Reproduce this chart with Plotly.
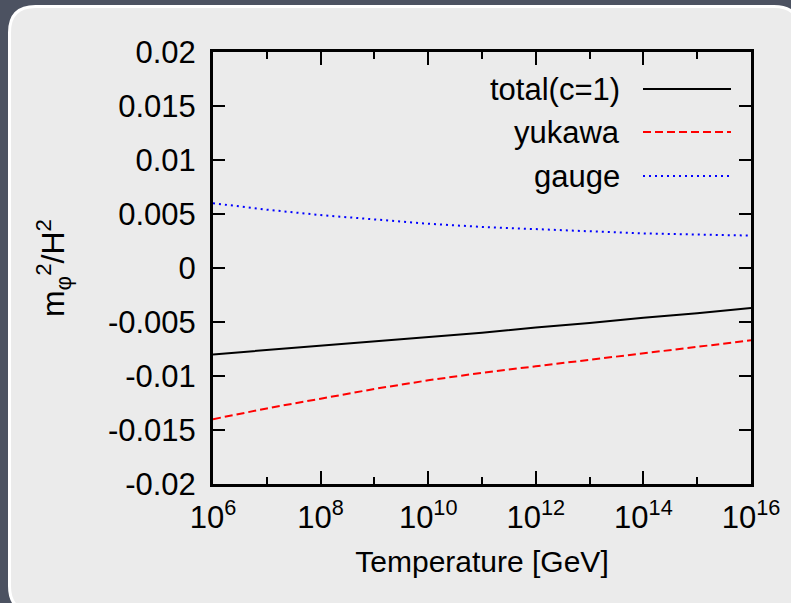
import plotly.graph_objects as go

# ---- data ----
temperature = [1e6, 1e7, 1e8, 1e9, 1e10, 1e11, 1e12, 1e13, 1e14, 1e15, 1e16]
total = [-0.0080, -0.0076, -0.0072, -0.0068, -0.0064, -0.0060, -0.0055, -0.0051, -0.0046, -0.0042, -0.0037]
yukawa = [-0.0140, -0.0130, -0.0121, -0.0112, -0.0104, -0.0097, -0.0091, -0.0085, -0.0079, -0.0073, -0.0067]
gauge = [0.0060, 0.0054, 0.0049, 0.0045, 0.0041, 0.0038, 0.0036, 0.0034, 0.0032, 0.0031, 0.0030]

series_names = ["total(c=1)", "yukawa", "gauge"]
series_values = [total, yukawa, gauge]
series_colors = ["#000000", "#ff0000", "#0000ff"]
series_dash = ["solid", "8px,4px", "2px,4px"]

x_major = [1e6, 1e8, 1e10, 1e12, 1e14, 1e16]
x_major_text = ["10<sup>6</sup>", "10<sup>8</sup>", "10<sup>10</sup>", "10<sup>12</sup>", "10<sup>14</sup>", "10<sup>16</sup>"]
x_minor = [1e7, 1e9, 1e11, 1e13, 1e15]
y_ticks = [-0.02, -0.015, -0.01, -0.005, 0, 0.005, 0.01, 0.015, 0.02]
y_tick_text = ["-0.02", "-0.015", "-0.01", "-0.005", "0", "0.005", "0.01", "0.015", "0.02"]

# ---- geometry (pixels) ----
W, H = 791, 603
ML, MR, MT, MB = 213, 40, 52, 119
PW, PH = W - ML - MR, H - MT - MB


def px(x):
    return (x - ML) / PW


def py(y):
    return (H - MB - y) / PH


FONT = "Liberation Sans, Arial, Helvetica, sans-serif"

fig = go.Figure()
for name, vals, col, dash in zip(series_names, series_values, series_colors, series_dash):
    fig.add_trace(go.Scatter(
        x=temperature, y=vals, mode="lines", name=name,
        line=dict(color=col, width=2, dash=dash), showlegend=False,
    ))

# rounded panel background
x0, x1, y0, y1, r = 9.5, 800, 6.5, 612, 26
path = (
    f"M {px(x0 + r)},{py(y0)} L {px(x1 - r)},{py(y0)} Q {px(x1)},{py(y0)} {px(x1)},{py(y0 + r)} "
    f"L {px(x1)},{py(y1 - r)} Q {px(x1)},{py(y1)} {px(x1 - r)},{py(y1)} "
    f"L {px(x0 + r)},{py(y1)} Q {px(x0)},{py(y1)} {px(x0)},{py(y1 - r)} "
    f"L {px(x0)},{py(y0 + r)} Q {px(x0)},{py(y0)} {px(x0 + r)},{py(y0)} Z"
)
shapes = [dict(type="path", xref="paper", yref="paper", path=path,
               fillcolor="#ebebeb", line=dict(color="#ffffff", width=3), layer="below")]

# manual gnuplot-style legend (text right-aligned, sample to the right)
annotations = []
legend_rows = [89, 132, 176]
for name, col, dash, ry in zip(series_names, series_colors, series_dash, legend_rows):
    annotations.append(dict(xref="paper", yref="paper", x=px(622), y=py(ry), text=name,
                            showarrow=False, xanchor="right", yanchor="middle",
                            font=dict(family=FONT, size=31, color="#000000")))
    shapes.append(dict(type="line", xref="paper", yref="paper",
                       x0=px(643), x1=px(731), y0=py(ry), y1=py(ry),
                       line=dict(color=col, width=2, dash=dash)))

axis_common = dict(showline=True, linecolor="#000000", linewidth=3, mirror="ticks",
                   ticks="inside", tickcolor="#000000", tickwidth=2,
                   showgrid=False, zeroline=False,
                   tickfont=dict(family=FONT, size=31, color="#000000"))

fig.update_layout(
    width=W, height=H,
    margin=dict(l=ML, r=MR, t=MT, b=MB),
    paper_bgcolor="#4c5261",
    plot_bgcolor="rgba(0,0,0,0)",
    shapes=shapes,
    annotations=annotations,
    xaxis=dict(type="log", range=[6, 16], tickvals=x_major, ticktext=x_major_text,
               ticklen=13, ticklabelstandoff=4,
               minor=dict(tickvals=x_minor, ticks="inside", ticklen=7, tickwidth=2, tickcolor="#000000"),
               title=dict(text="Temperature [GeV]", font=dict(family=FONT, size=30, color="#000000"), standoff=17),
               **axis_common),
    yaxis=dict(range=[-0.02, 0.02], tickvals=y_ticks, ticktext=y_tick_text,
               ticklen=12, ticklabelstandoff=8,
               title=dict(text="m<sub>φ</sub><sup>2</sup>/H<sup>2</sup>", font=dict(family=FONT, size=32, color="#000000"), standoff=34),
               **axis_common),
)

fig.write_html("out.html")
